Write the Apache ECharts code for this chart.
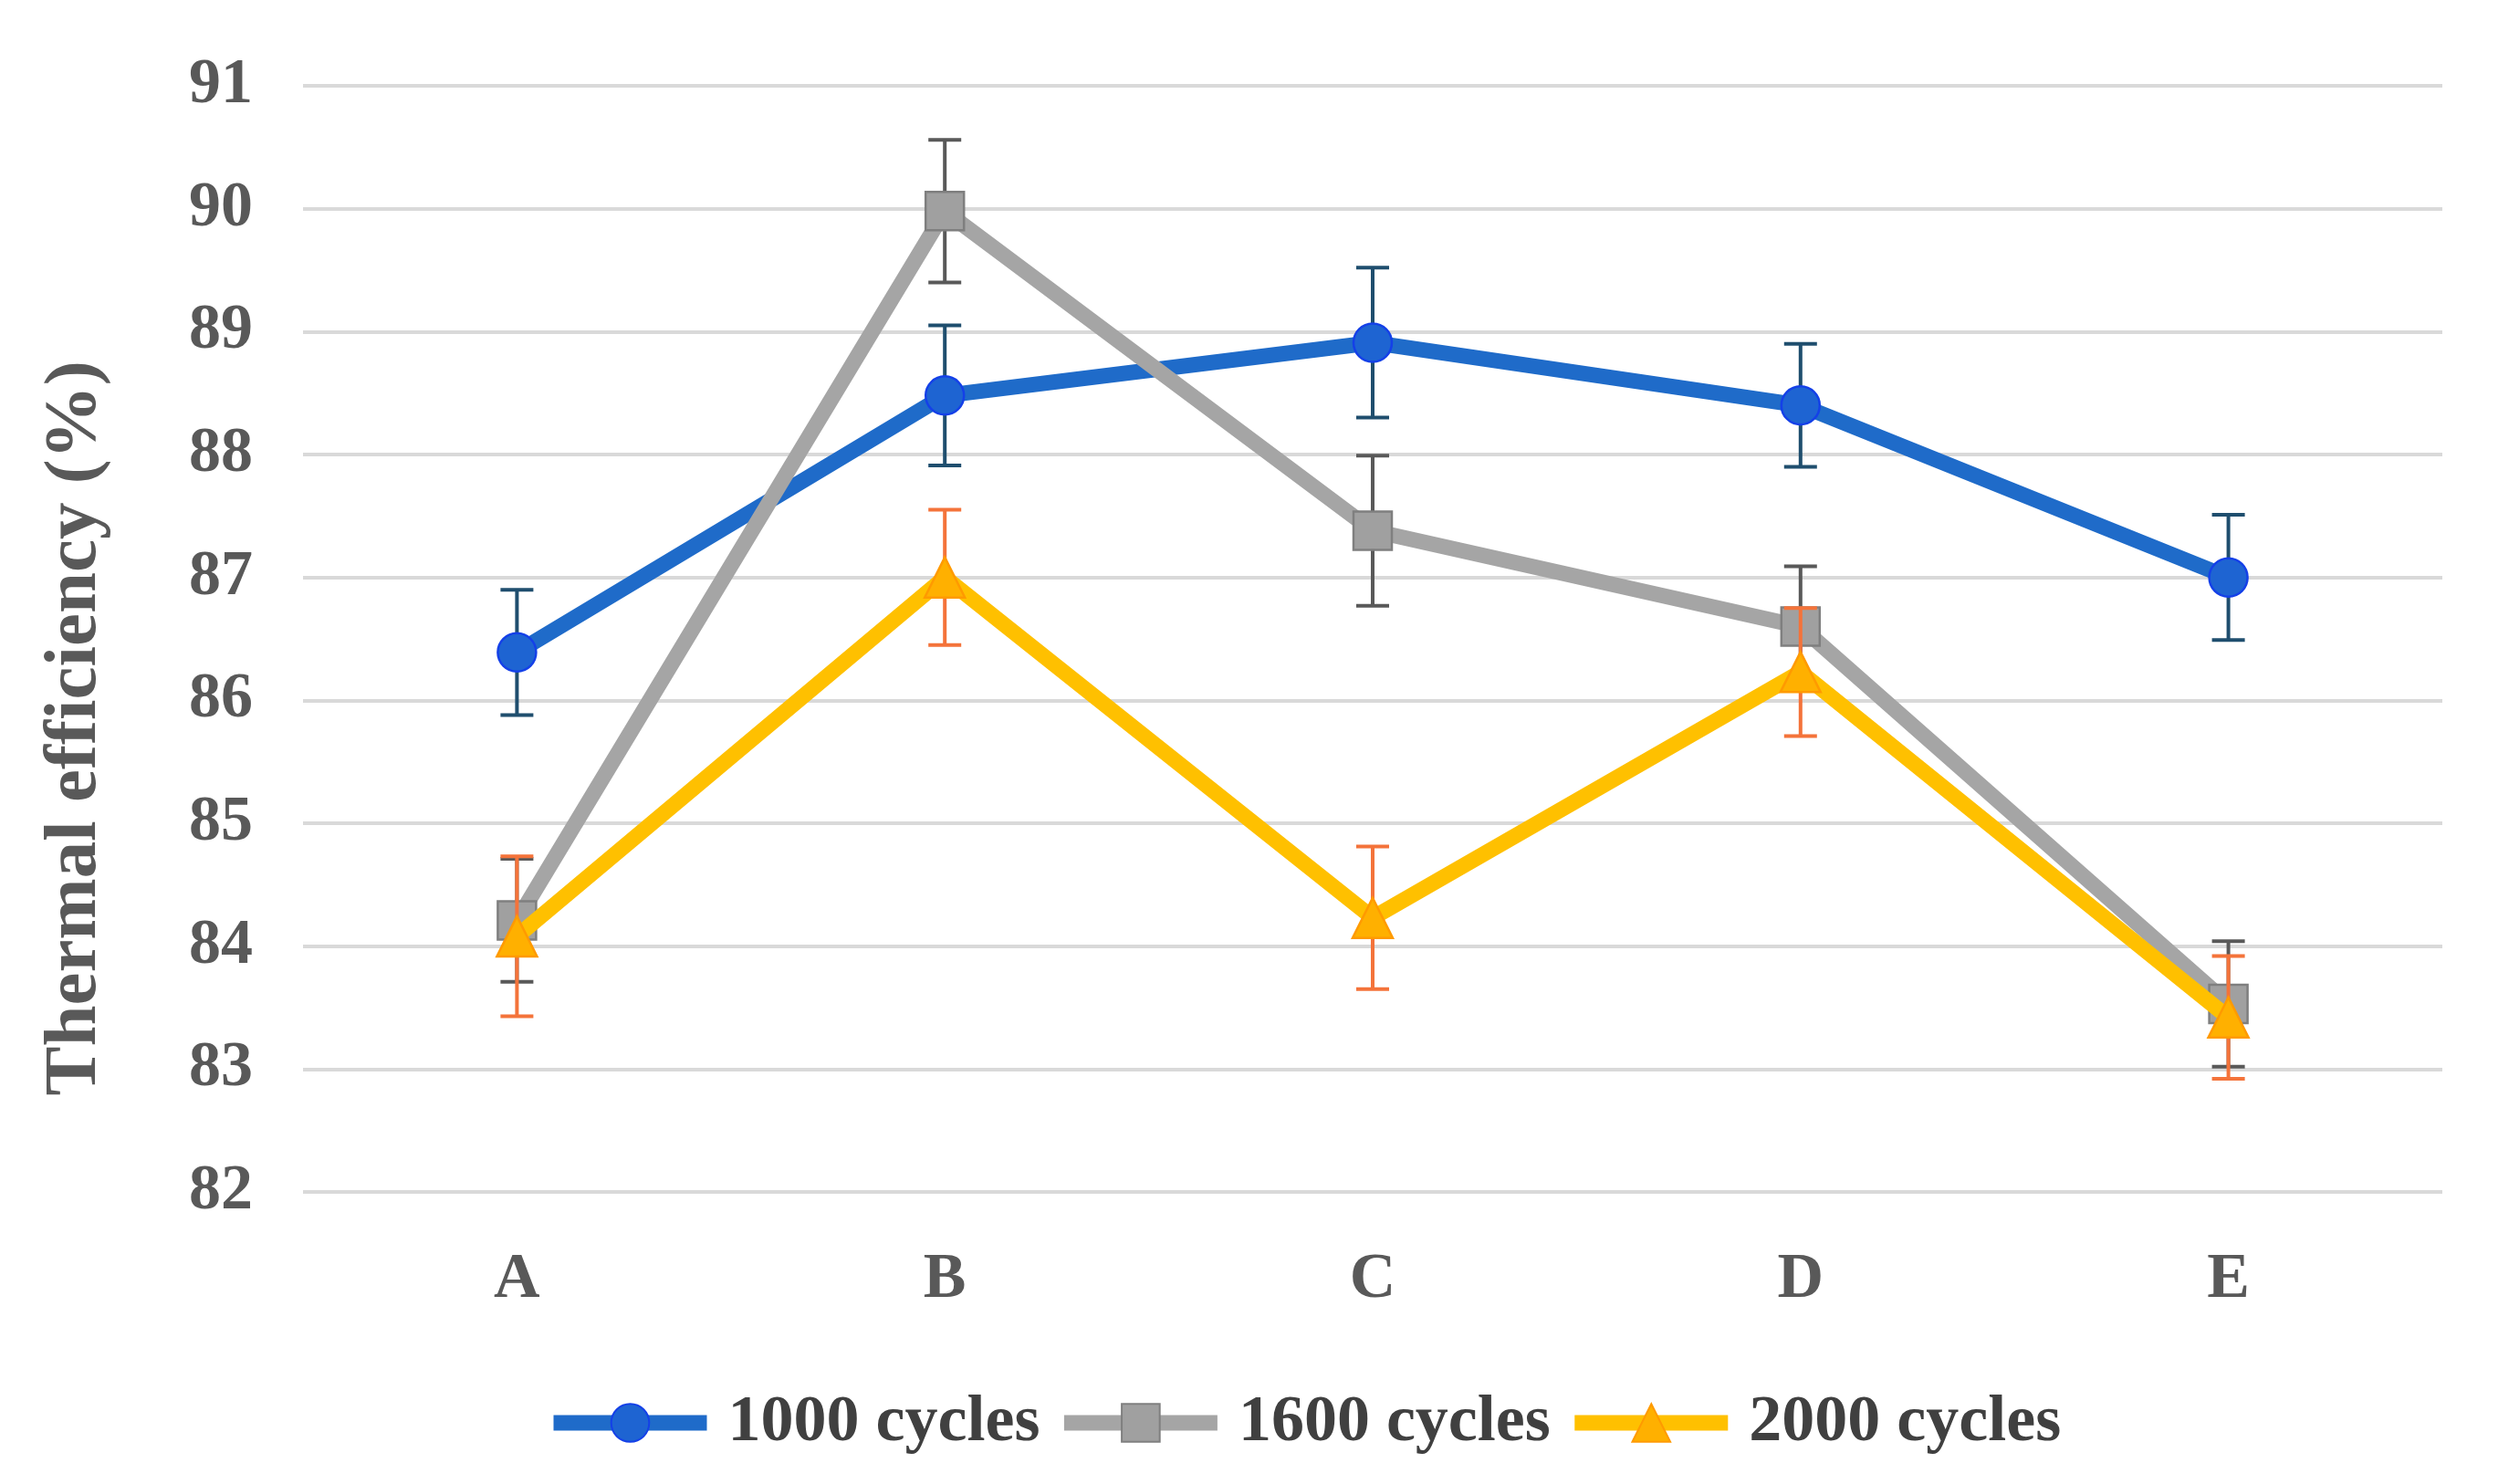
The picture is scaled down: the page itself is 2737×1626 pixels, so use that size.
<!DOCTYPE html>
<html>
<head>
<meta charset="utf-8">
<script src="https://cdn.jsdelivr.net/npm/echarts@6/dist/echarts.min.js"></script>
<style>
html,body{margin:0;padding:0;background:#fff;}
#chart{width:2737px;height:1626px;}
</style>
</head>
<body>
<div id="chart"></div>
<script>
// ---- data ----
const categories = ['A', 'B', 'C', 'D', 'E'];
const seriesNames = ['1000 cycles', '1600 cycles', '2000 cycles'];
const values1000 = [86.39, 88.48, 88.91, 88.40, 87.00];
const errors1000 = [0.51, 0.57, 0.61, 0.50, 0.51];
const values1600 = [84.21, 89.98, 87.38, 86.60, 83.53];
const errors1600 = [0.50, 0.58, 0.61, 0.49, 0.51];
const values2000 = [84.08, 87.00, 84.23, 86.23, 83.42];
const errors2000 = [0.65, 0.55, 0.58, 0.52, 0.50];
const yTicks = { min: 82, max: 91, interval: 1 };

// ---- styles ----
const FONT = 'Liberation Serif';
const LINE_W = 17;
const styles = [
  { line: '#1F6BC9', fill: '#1E64D2', border: '#1440E8', err: '#1F4E6E', symbol: 'circle', size: 42 },
  { line: '#A5A5A5', fill: '#A0A0A0', border: '#7F7F7F', err: '#595959', symbol: 'rect', size: 42 },
  { line: '#FFC000', fill: '#FFB000', border: '#FF9A00', err: '#F4733A', symbol: 'triangle', size: 44 }
];

function errData(vals, errs) {
  return vals.map((v, i) => [i, v, errs[i]]);
}
function errRender(color) {
  return function (params, api) {
    const i = api.value(0), v = api.value(1), e = api.value(2);
    const t = api.coord([i, v + e]);
    const b = api.coord([i, v - e]);
    const hw = 18;
    const st = { stroke: color, lineWidth: 4 };
    return {
      type: 'group',
      children: [
        { type: 'line', shape: { x1: t[0], y1: t[1], x2: b[0], y2: b[1] }, style: st },
        { type: 'line', shape: { x1: t[0] - hw, y1: t[1], x2: t[0] + hw, y2: t[1] }, style: st },
        { type: 'line', shape: { x1: b[0] - hw, y1: b[1], x2: b[0] + hw, y2: b[1] }, style: st }
      ]
    };
  };
}

const allVals = [values1000, values1600, values2000];
const allErrs = [errors1000, errors1600, errors2000];

const series = [];
allVals.forEach((vals, k) => {
  const s = styles[k];
  series.push({
    type: 'custom',
    name: seriesNames[k] + ' error',
    renderItem: errRender(s.err),
    data: errData(vals, allErrs[k]),
    encode: { x: 0, y: 1 },
    z: 2 + k * 2,
    silent: true
  });
  series.push({
    type: 'line',
    name: seriesNames[k],
    data: vals,
    symbol: s.symbol,
    symbolSize: s.size,
    lineStyle: { color: s.line, width: LINE_W },
    itemStyle: { color: s.fill, borderColor: s.border, borderWidth: 2.5 },
    z: 3 + k * 2,
    animation: false
  });
});

const chart = echarts.init(document.getElementById('chart'));
chart.setOption({
  animation: false,
  backgroundColor: '#ffffff',
  grid: { left: 332, right: 61, top: 94, bottom: 320, containLabel: false },
  legend: {
    data: seriesNames,
    left: 593,
    top: 1518,
    itemWidth: 168,
    itemHeight: 52,
    itemGap: 18,
    lineStyle: { width: LINE_W },
    textStyle: { fontFamily: FONT, fontWeight: 'bold', fontSize: 72, color: '#404040', padding: [0, 0, 0, 18] }
  },
  xAxis: {
    type: 'category',
    data: categories,
    boundaryGap: true,
    axisLine: { show: false },
    axisTick: { show: false },
    axisLabel: { margin: 62, fontFamily: FONT, fontWeight: 'bold', fontSize: 70, color: '#595959' }
  },
  yAxis: {
    type: 'value',
    min: yTicks.min,
    max: yTicks.max,
    interval: yTicks.interval,
    name: 'Thermal efficiency (%)',
    nameLocation: 'middle',
    nameGap: 208,
    nameTextStyle: { fontFamily: FONT, fontWeight: 'bold', fontSize: 81, color: '#595959', padding: [0, 196, 0, 0] },
    axisLine: { show: false },
    axisTick: { show: false },
    axisLabel: { margin: 55, fontFamily: FONT, fontWeight: 'bold', fontSize: 70, color: '#595959' },
    splitLine: { lineStyle: { color: '#D9D9D9', width: 4 } }
  },
  series: series
});
</script>
</body>
</html>
